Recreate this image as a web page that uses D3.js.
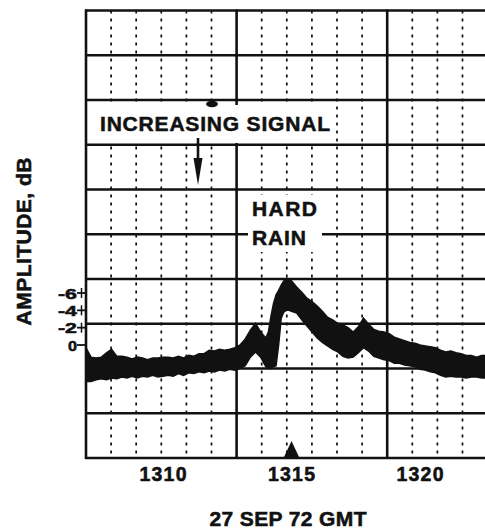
<!DOCTYPE html>
<html>
<head>
<meta charset="utf-8">
<script src="https://cdn.jsdelivr.net/npm/d3@7"></script>
<style>
  html, body { margin: 0; padding: 0; background: #fff; }
  svg { display: block; }
  text { font-family: "Liberation Sans", Arial, Helvetica, sans-serif; font-weight: bold; fill: #111; stroke: #111; stroke-width: 0.55px; }
</style>
</head>
<body>
<svg id="chart" width="485" height="531"></svg>
<script>
// ---- data (read from the strip-chart record) ----
const times = [
  1307.0,1307.2,1307.4,1307.6,1307.8,1308.0,1308.2,1308.4,1308.6,1308.8,
  1309.0,1309.2,1309.4,1309.6,1309.8,1310.0,1310.2,1310.4,1310.6,1310.8,
  1311.0,1311.2,1311.4,1311.6,1311.8,1312.0,1312.2,1312.4,1312.6,1312.8,
  1313.0,1313.2,1313.4,1313.6,1313.8,1314.0,1314.1,1314.2,1314.3,1314.4,
  1314.5,1314.6,1314.7,1314.8,1314.9,1315.0,1315.2,1315.4,1315.6,1315.8,
  1316.0,1316.2,1316.4,1316.6,1316.8,1317.0,1317.2,1317.4,1317.6,1317.8,
  1318.0,1318.2,1318.4,1318.6,1318.8,1319.0,1319.2,1319.4,1319.6,1319.8,
  1320.0,1320.2,1320.4,1320.6,1320.8,1321.0,1321.2,1321.4,1321.6,1321.8,
  1322.0,1322.2,1322.4,1322.6
];
// top edge of the recorded trace (dB)
const upperDb = [
  0.3,1.4,1.5,1.4,0.9,0.5,1.3,1.3,1.4,1.6,
  1.4,1.5,1.7,1.5,1.5,1.4,1.4,1.5,1.3,1.5,
  1.2,1.3,1.0,1.0,0.6,0.7,0.5,0.6,0.5,0.3,
  0.0,-0.7,-1.7,-2.5,-1.5,-0.8,-1.5,-3.3,-4.8,-5.8,
  -6.3,-6.9,-7.4,-7.7,-7.6,-7.4,-6.7,-6.1,-5.4,-5.0,
  -4.5,-3.9,-3.2,-2.9,-2.5,-2.3,-2.0,-1.5,-2.1,-3.1,
  -2.4,-1.8,-1.6,-1.5,-1.3,-0.9,-0.7,-0.5,-0.3,-0.2,
  0.0,0.1,0.2,0.3,0.6,0.8,0.7,0.9,1.0,1.2,
  1.2,1.4,1.2,1.2
];
// bottom edge of the recorded trace (dB)
const lowerDb = [
  4.2,4.2,4.0,3.9,4.0,3.8,3.9,3.7,3.8,3.6,
  3.8,3.6,3.7,3.5,3.7,3.6,3.5,3.6,3.3,3.5,
  3.2,3.3,3.1,3.2,3.0,3.1,2.9,3.0,2.8,2.9,
  2.7,2.4,1.4,0.8,1.4,2.5,2.7,2.7,2.5,2.4,
  0.0,-3.1,-3.8,-4.0,-4.0,-3.9,-3.7,-2.9,-2.2,-1.5,
  -0.8,-0.3,0.1,0.5,0.8,1.3,1.5,1.4,0.9,0.3,
  0.7,1.3,1.5,1.7,1.8,2.1,2.1,2.3,2.4,2.5,
  2.8,2.9,3.1,3.2,3.5,3.7,3.6,3.7,3.7,3.8,
  3.7,3.7,3.8,3.8
];
const xTickValues = [1310, 1315, 1320];
const yTickValues = [-6, -4, -2, 0];
const markerTime = 1315;
const vDivisions = d3.range(0, 17);      // chart-paper columns
const vMajor = [0, 6, 12];
const hDivisions = d3.range(0, 11);      // chart-paper rows

// ---- scales ----
const svg = d3.select("#chart");
const x = d3.scaleLinear().domain([1310, 1320]).range([163, 420]);
const y = d3.scaleLinear().domain([0, -6]).range([345, 293]);
const gx = d3.scaleLinear().domain([0, 16]).range([86, 86 + 16 * 25.1]);
const gy = d3.scaleLinear().domain([0, 10]).range([10.5, 458]);
const ink = "#111";

svg.append("rect").attr("width", 485).attr("height", 531).attr("fill", "#fff");

// ---- chart paper grid ----
const grid = svg.append("g");
grid.selectAll("line.minor").data(vDivisions.filter(d => !vMajor.includes(d)))
  .join("line").attr("class", "minor")
  .attr("x1", d => gx(d)).attr("x2", d => gx(d))
  .attr("y1", gy(0)).attr("y2", gy(10))
  .attr("stroke", ink).attr("stroke-width", 1.7)
  .attr("stroke-dasharray", "3,5");
grid.selectAll("line.major").data(vMajor)
  .join("line").attr("class", "major")
  .attr("x1", d => gx(d)).attr("x2", d => gx(d))
  .attr("y1", gy(0) - 1).attr("y2", gy(10) + 1)
  .attr("stroke", ink).attr("stroke-width", 2.6);
grid.selectAll("line.h").data(hDivisions)
  .join("line").attr("class", "h")
  .attr("x1", gx(0) - 1).attr("x2", 485)
  .attr("y1", d => gy(d)).attr("y2", d => gy(d))
  .attr("stroke", ink).attr("stroke-width", 2.6);

// ---- annotation backgrounds (paper showing through labels) ----
svg.append("rect").attr("x", 88).attr("y", 105).attr("width", 244).attr("height", 38).attr("fill", "#fff");
svg.append("rect").attr("x", 248).attr("y", 195).attr("width", 74).attr("height", 57).attr("fill", "#fff");

// ---- recorded trace ----
const data = times.map((t, i) => ({ t, hi: upperDb[i], lo: lowerDb[i] }));
svg.append("clipPath").attr("id", "plotclip")
  .append("rect").attr("x", 86).attr("y", 0).attr("width", 400).attr("height", 458);
const area = d3.area()
  .x(d => x(d.t)).y0(d => y(d.lo)).y1(d => y(d.hi))
  .curve(d3.curveLinear);
svg.append("path").datum(data)
  .attr("clip-path", "url(#plotclip)")
  .attr("d", area)
  .attr("fill", ink).attr("stroke", ink).attr("stroke-width", 1.5)
  .attr("stroke-linejoin", "miter");

// ---- event marker at bottom ----
const mx = x(markerTime);
svg.append("path")
  .attr("d", `M${mx - 7.5},457 L${mx},441 L${mx + 7.5},457 Z`)
  .attr("fill", ink);

// ---- blot marker at top annotation ----
svg.append("ellipse").attr("cx", 212).attr("cy", 104).attr("rx", 6).attr("ry", 3.2).attr("fill", ink);

// ---- y axis ticks and labels ----
const yAxis = svg.append("g");
yAxis.selectAll("line.tk").data(yTickValues).join("line").attr("class", "tk")
  .attr("x1", 77).attr("x2", 86)
  .attr("y1", d => y(d)).attr("y2", d => y(d))
  .attr("stroke", ink).attr("stroke-width", 1.8);
yAxis.selectAll("line.tv").data(yTickValues.filter(d => d !== 0)).join("line").attr("class", "tv")
  .attr("x1", 81.5).attr("x2", 81.5)
  .attr("y1", d => y(d) - 5).attr("y2", d => y(d) + 5)
  .attr("stroke", ink).attr("stroke-width", 1.5);
yAxis.selectAll("text").data(yTickValues).join("text")
  .attr("x", 77).attr("y", d => y(d) + 5.5)
  .attr("text-anchor", "end")
  .attr("font-size", 15)
  .attr("textLength", d => d === 0 ? 9 : 19).attr("lengthAdjust", "spacingAndGlyphs")
  .text(d => d === 0 ? "0" : "-" + Math.abs(d));

// ---- x axis labels ----
svg.append("g").selectAll("text").data(xTickValues).join("text")
  .attr("x", d => x(d)).attr("y", 480.5)
  .attr("text-anchor", "middle")
  .attr("font-size", 19.5)
  .attr("textLength", 47).attr("lengthAdjust", "spacing")
  .text(d => d);

// ---- titles ----
svg.append("text").attr("x", 288).attr("y", 526)
  .attr("text-anchor", "middle").attr("font-size", 21)
  .attr("textLength", 157).attr("lengthAdjust", "spacing")
  .text("27 SEP 72 GMT");
svg.append("text")
  .attr("transform", "translate(30.5,241.5) rotate(-90)")
  .attr("text-anchor", "middle").attr("font-size", 21)
  .attr("textLength", 168).attr("lengthAdjust", "spacing")
  .text("AMPLITUDE, dB");

// ---- annotations ----
svg.append("text").attr("x", 100).attr("y", 130.5)
  .attr("font-size", 21).attr("textLength", 230).attr("lengthAdjust", "spacing")
  .text("INCREASING SIGNAL");
svg.append("line").attr("x1", 198).attr("x2", 198).attr("y1", 138).attr("y2", 162)
  .attr("stroke", ink).attr("stroke-width", 2.6);
svg.append("path").attr("d", "M193.5,158 L202.5,158 L198,185 Z").attr("fill", ink);

svg.append("text").attr("x", 252).attr("y", 216)
  .attr("font-size", 21).attr("textLength", 65).attr("lengthAdjust", "spacing")
  .text("HARD");
svg.append("text").attr("x", 252).attr("y", 244.5)
  .attr("font-size", 21).attr("textLength", 54).attr("lengthAdjust", "spacing")
  .text("RAIN");
</script>
</body>
</html>
